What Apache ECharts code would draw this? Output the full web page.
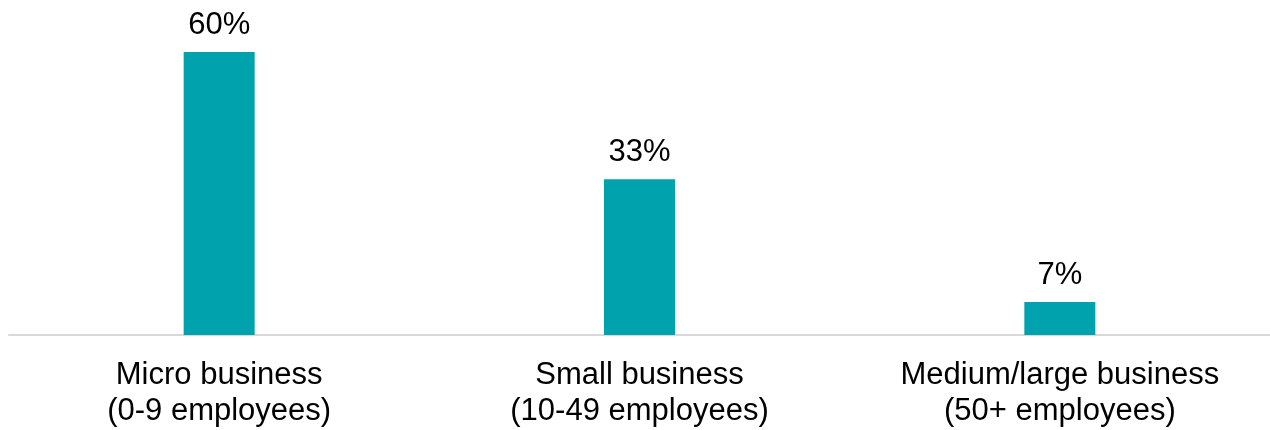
<!DOCTYPE html>
<html>
<head>
<meta charset="utf-8">
<script src="https://cdn.jsdelivr.net/npm/echarts@6/dist/echarts.min.js"></script>
<style>
  html, body { margin: 0; padding: 0; background: #fff; }
  #chart { width: 1270px; height: 430px; }
</style>
</head>
<body>
<div id="chart"></div>
<script>
const categories = ['Micro business\n(0-9 employees)', 'Small business\n(10-49 employees)', 'Medium/large business\n(50+ employees)'];
const shares = [60, 33, 7];

const chart = echarts.init(document.getElementById('chart'));
chart.setOption({
  animation: false,
  grid: { left: 9, right: 0, top: 52, bottom: 95 },
  xAxis: {
    type: 'category',
    data: categories,
    axisLine: { lineStyle: { color: '#d9d9d9', width: 2 } },
    axisTick: { show: false },
    axisLabel: {
      color: '#000',
      fontFamily: 'Liberation Sans, Arial',
      fontSize: 31,
      lineHeight: 36,
      margin: 22,
      interval: 0
    }
  },
  yAxis: {
    type: 'value',
    min: 0,
    max: 60,
    show: false,
    splitLine: { show: false }
  },
  series: [{
    type: 'bar',
    data: shares,
    barWidth: 71,
    itemStyle: { color: '#00a3ad' },
    label: {
      show: true,
      position: 'top',
      distance: 11,
      color: '#000',
      fontFamily: 'Liberation Sans, Arial',
      fontSize: 31,
      formatter: p => p.value + '%'
    }
  }]
});
</script>
</body>
</html>
